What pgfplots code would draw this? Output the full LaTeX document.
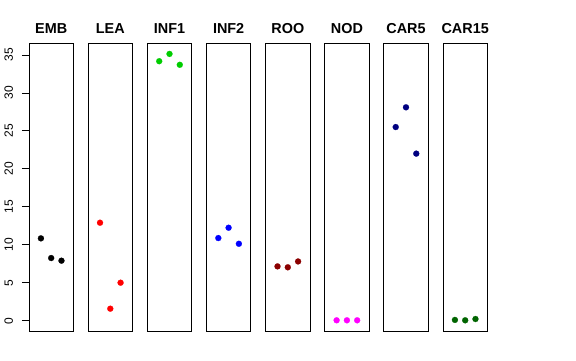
\documentclass[border=0pt]{standalone}
\usepackage{fontspec}
\setmainfont{Liberation Sans}
\usepackage{pgfplots}
\pgfplotsset{compat=1.18}
\definecolor{rgreen}{HTML}{00CD00}
\definecolor{rdarkred}{HTML}{8B0000}
\definecolor{rnavy}{HTML}{000080}
\definecolor{rdarkgreen}{HTML}{006400}
\definecolor{rmagenta}{HTML}{FF00FF}
\definecolor{rred}{HTML}{FF0000}
\definecolor{rblue}{HTML}{0000FF}
\pgfplotsset{panel/.style={
  scale only axis, width=44.4pt, height=287.7pt, anchor=south west,
  xmin=-0.16, xmax=4.16, ymin=-1.36, ymax=36.53,
  xtick=\empty, ytick=\empty,
  axis line style={line width=0.75pt},
  title style={at={(0.5,1)}, anchor=base, yshift=3.5pt, font=\fontsize{14.4}{14.4}\selectfont\bfseries},
},
pts/.style={only marks, mark=*, mark size=3pt, color=#1, mark options={fill=#1, draw=#1, line width=0.2pt}}}
\begin{document}
\begin{tikzpicture}
\path[use as bounding box] (0,0) rectangle (576pt,360pt);
\begin{axis}[panel, at={(29pt,29pt)}, title={EMB},
  ytick={0,5,...,35}, ytick pos=left, tick align=outside, major tick length=7pt,
  tick style={line width=0.75pt, black},
  /pgf/number format/assume math mode=true,
  yticklabel style={rotate=90, anchor=base, font=\fontsize{12}{12}\selectfont, yshift=9pt}]
\addplot[pts=black] coordinates {(1,10.84)(2,8.25)(3,7.9)};
\end{axis}
\begin{axis}[panel, at={(88.1pt,29pt)}, title={LEA}]
\addplot[pts=rred] coordinates {(1,12.9)(2,1.58)(3,5.0)};
\end{axis}
\begin{axis}[panel, at={(147.3pt,29pt)}, title={INF1}]
\addplot[pts=rgreen] coordinates {(1,34.17)(2,35.13)(3,33.7)};
\end{axis}
\begin{axis}[panel, at={(206.4pt,29pt)}, title={INF2}]
\addplot[pts=rblue] coordinates {(1,10.88)(2,12.24)(3,10.13)};
\end{axis}
\begin{axis}[panel, at={(265.6pt,29pt)}, title={ROO}]
\addplot[pts=rdarkred] coordinates {(1,7.15)(2,7.03)(3,7.8)};
\end{axis}
\begin{axis}[panel, at={(324.7pt,29pt)}, title={NOD}]
\addplot[pts=rmagenta] coordinates {(1,0.05)(2,0.05)(3,0.05)};
\end{axis}
\begin{axis}[panel, at={(383.8pt,29pt)}, title={CAR5}]
\addplot[pts=rnavy] coordinates {(1,25.5)(2,28.1)(3,22.0)};
\end{axis}
\begin{axis}[panel, at={(443pt,29pt)}, title={CAR15}]
\addplot[pts=rdarkgreen] coordinates {(1,0.1)(2,0.05)(3,0.22)};
\end{axis}
\end{tikzpicture}
\end{document}
